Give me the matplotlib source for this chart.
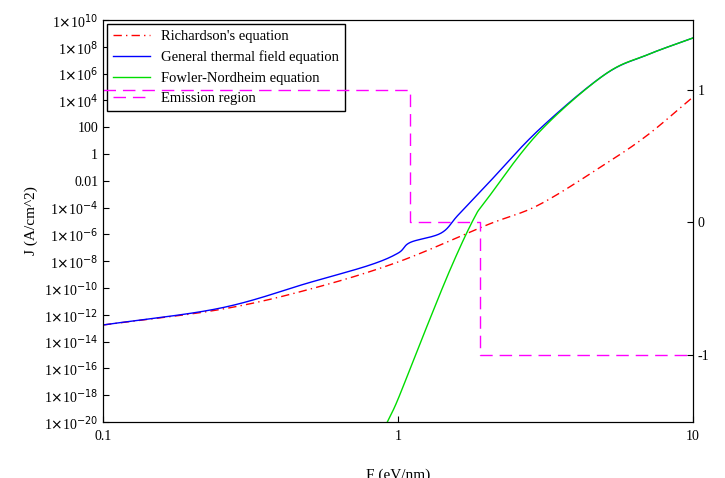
import matplotlib
matplotlib.use("Agg")
import matplotlib.pyplot as plt
import numpy as np

plt.rcParams['font.family'] = ['Liberation Serif', 'DejaVu Serif']

rich_F = [0.1, 0.25, 0.5, 1.0, 2.0, 3.0, 5.0, 7.0, 10.0]
rich_logJ = [-12.76, -11.6, -10.1, -8.06, -5.3, -3.8, -0.8, 1.4, 4.25]
gen_F = [0.1, 0.25, 0.5, 0.8, 1.0, 1.1, 1.4, 1.6, 2.0, 3.0, 5.0, 7.0, 10.0]
gen_logJ = [-12.76, -11.5, -9.6, -8.3, -7.4, -6.6, -5.9, -4.55, -2.3, 1.8, 5.9, 7.4, 8.66]
fn_F = [0.92, 1.0, 1.2, 1.5, 1.8, 2.0, 3.0, 5.0, 7.0, 10.0]
fn_logJ = [-20.0, -18.3, -13.9, -8.66, -4.9, -3.4, 1.6, 5.9, 7.4, 8.66]
reg_F = [0.1, 1.1, 1.1, 1.9, 1.9, 10.0]
reg_val = [1, 1, 0, 0, -1, -1]

def smooth(xs, ys, n=30):
    # Catmull-Rom spline in log-log space through the read points
    px = np.log10(np.array(xs, float)); py = np.array(ys, float)
    P = np.column_stack([px, py])
    P = np.vstack([2*P[0]-P[1], P, 2*P[-1]-P[-2]])
    out = []
    t = np.linspace(0, 1, n, endpoint=False)[:, None]
    for i in range(1, len(P)-2):
        p0, p1, p2, p3 = P[i-1], P[i], P[i+1], P[i+2]
        seg = 0.5*((2*p1) + (-p0+p2)*t + (2*p0-5*p1+4*p2-p3)*t**2 + (-p0+3*p1-3*p2+p3)*t**3)
        out.append(seg)
    out.append(P[-2][None, :])
    Q = np.vstack(out)
    return 10**Q[:, 0], 10**Q[:, 1]

fig = plt.figure(figsize=(7.25, 4.78), dpi=100)
ax = fig.add_axes([103/725, 1-422/478, 590/725, 402/478])
x, y = smooth(rich_F, rich_logJ)
l1, = ax.plot(x, y, color='red', ls=(0, (6, 3, 1, 3)), lw=1, label="Richardson's equation")
x, y = smooth(gen_F, gen_logJ)
l2, = ax.plot(x, y, color='blue', lw=1, label='General thermal field equation')
x, y = smooth(fn_F, fn_logJ)
l3, = ax.plot(x, y, color='#00dd00', lw=1, label='Fowler-Nordheim equation')
ax.set_xscale('log'); ax.set_yscale('log')
ax.set_xlim(0.1, 10); ax.set_ylim(1e-20, 1e10)
def lab(k):
    if k == 2: return '100'
    if k == 0: return '1'
    if k == -2: return '0.01'
    return r'1$\times$10$^{%d}$' % k
ax.set_yticks([10.0**k for k in range(-20, 11, 2)])
ax.set_yticklabels([lab(k) for k in range(-20, 11, 2)], fontsize=10)
ax.minorticks_off()
ax.set_xticks([0.1, 1, 10]); ax.set_xticklabels(['0.1', '1', '10'], fontsize=10)
ax.tick_params(direction='in', length=4)
ax.tick_params(axis='x', pad=6)
ax.set_xlabel('F (eV/nm)', fontsize=11, labelpad=18)
ax.set_ylabel('J (A/cm^2)', fontsize=11)
ax2 = ax.twinx()
l4, = ax2.plot(reg_F, reg_val, color='magenta', ls=(0, (9, 5)), lw=1, label='Emission region')
ax2.set_ylim(-1.51, 1.53)
ax2.set_yticks([-1, 0, 1]); ax2.set_yticklabels(['-1', '0', '1'], fontsize=10)
ax2.tick_params(direction='in', length=4)
ax.legend(handles=[l1, l2, l3, l4], loc='upper left', fontsize=10.5, fancybox=False,
          edgecolor='black', framealpha=1, borderaxespad=0.3, handlelength=2.5)
fig.savefig('out.png', dpi=100)
